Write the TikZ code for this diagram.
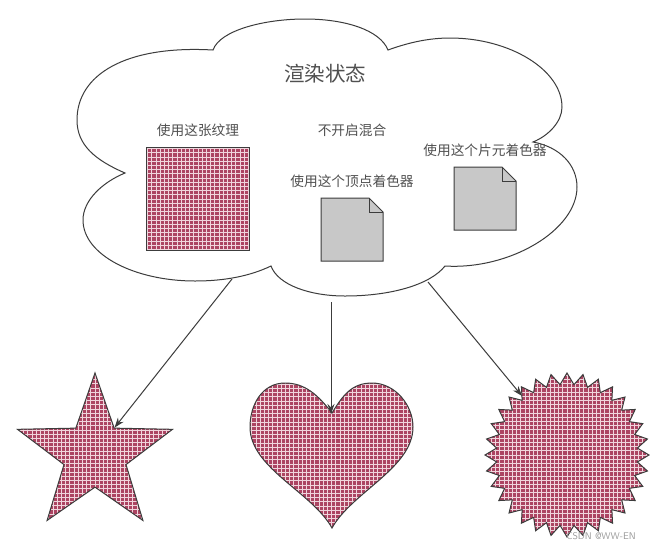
\documentclass[tikz,border=0pt]{standalone}
\usepackage{fontspec}
\setmainfont{Noto Sans CJK SC}
\usetikzlibrary{shapes.geometric, arrows.meta}
\definecolor{texred}{RGB}{172, 68, 98}
\definecolor{texgrid}{RGB}{240, 212, 220}
\definecolor{docgray}{RGB}{200, 200, 200}
\definecolor{linegray}{RGB}{60, 60, 60}
\definecolor{labelgray}{RGB}{80, 80, 80}
\tikzset{
  texfill/.style = {draw=linegray, line width=1pt, fill=texred, path picture={
      \foreach \i in {-25,...,25} {
        \draw[texgrid, line width=0.8pt] ([xshift=\i*4.2pt, yshift=-110pt]path picture bounding box.center) -- ([xshift=\i*4.2pt, yshift=110pt]path picture bounding box.center);
        \draw[texgrid, line width=0.8pt] ([yshift=\i*4.2pt, xshift=-110pt]path picture bounding box.center) -- ([yshift=\i*4.2pt, xshift=110pt]path picture bounding box.center);
      }}},
  lbl/.style     = {font=\fontsize{13.7}{15}\selectfont, text=labelgray, inner sep=0pt},
  flow/.style    = {-{Stealth[length=10pt, width=7pt]}, line width=1pt, linegray},
  docicon/.pic   = {
    \draw[linegray, line width=1pt, fill=docgray] (0,0) -- (48,0) -- (62,14) -- (62,63) -- (0,63) -- cycle;
    \draw[linegray, line width=1pt] (48,0) -- (48,14) -- (62,14);
  },
}
\begin{document}
\begin{tikzpicture}[x=1pt, y=-1pt]
  \useasboundingbox[fill=white] (0,0) rectangle (653,550);

  % cloud
  \draw[linegray, line width=1pt, fill=white] (125,173)
    .. controls (95,160) and (77,145) .. (77,120)
    .. controls (77,75) and (125,45) .. (213,50)
    .. controls (220,30) and (265,19) .. (305,19)
    .. controls (345,19) and (380,30) .. (388,50)
    .. controls (410,42) and (430,38) .. (450,38)
    .. controls (510,38) and (562,70) .. (562,107)
    .. controls (562,122) and (548,136) .. (533,142)
    .. controls (560,147) and (577,165) .. (577,187)
    .. controls (577,230) and (510,270) .. (445,266)
    .. controls (430,285) and (390,296) .. (345,296)
    .. controls (310,296) and (278,285) .. (271,266)
    .. controls (250,276) and (225,281) .. (195,281)
    .. controls (135,281) and (83,255) .. (83,220)
    .. controls (83,200) and (103,182) .. (125,173) -- cycle;
  \coordinate (cloudL) at (232,279);
  \coordinate (cloudM) at (331,302);
  \coordinate (cloudR) at (428,282);

  \node[lbl, font=\fontsize{20.5}{22}\selectfont] (title) at (325,74) {渲染状态};
  \node[lbl] (texlabel) at (198,130) {使用这张纹理};
  \node[lbl] (blendlabel) at (352,130) {不开启混合};
  \node[lbl] (vertlabel) at (352,181) {使用这个顶点着色器};
  \node[lbl] (fraglabel) at (485,150) {使用这个片元着色器};

  \node[texfill, rectangle, minimum size=103pt, inner sep=0pt] (texsquare) at (198,199) {};
  \pic at (321,198) {docicon};
  \pic at (454,167) {docicon};

  % shapes
  \node[texfill, star, star points=5, star point ratio=2.5, minimum size=163pt, inner sep=0pt] (texstar) at (95,454.5) {};
  \draw[texfill] (332,413)
    .. controls (318,395) and (305,383) .. (285,383)
    .. controls (262,383) and (250,405) .. (250,427)
    .. controls (250,468) and (312,492) .. (332,528)
    .. controls (352,492) and (413,468) .. (413,427)
    .. controls (413,405) and (395,383) .. (372,383)
    .. controls (352,383) and (343,395) .. (332,413) -- cycle;
  \coordinate (heartnotch) at (331,414);
  \node[texfill, star, star points=32, star point ratio=1.16, minimum size=164pt, inner sep=0pt] (burst) at (567,455) {};
  \coordinate (bursttip) at (522,396);

  \draw[flow] (cloudL) -- (texstar.inner point 5);
  \draw[flow] (cloudM) -- (heartnotch);
  \draw[flow] (cloudR) -- (bursttip);

  \node[font=\sffamily\fontsize{9.7}{10}\selectfont, text=gray!80, inner sep=0pt] (mark) at (601,536) {CSDN @WW-EN};
\end{tikzpicture}
\end{document}
